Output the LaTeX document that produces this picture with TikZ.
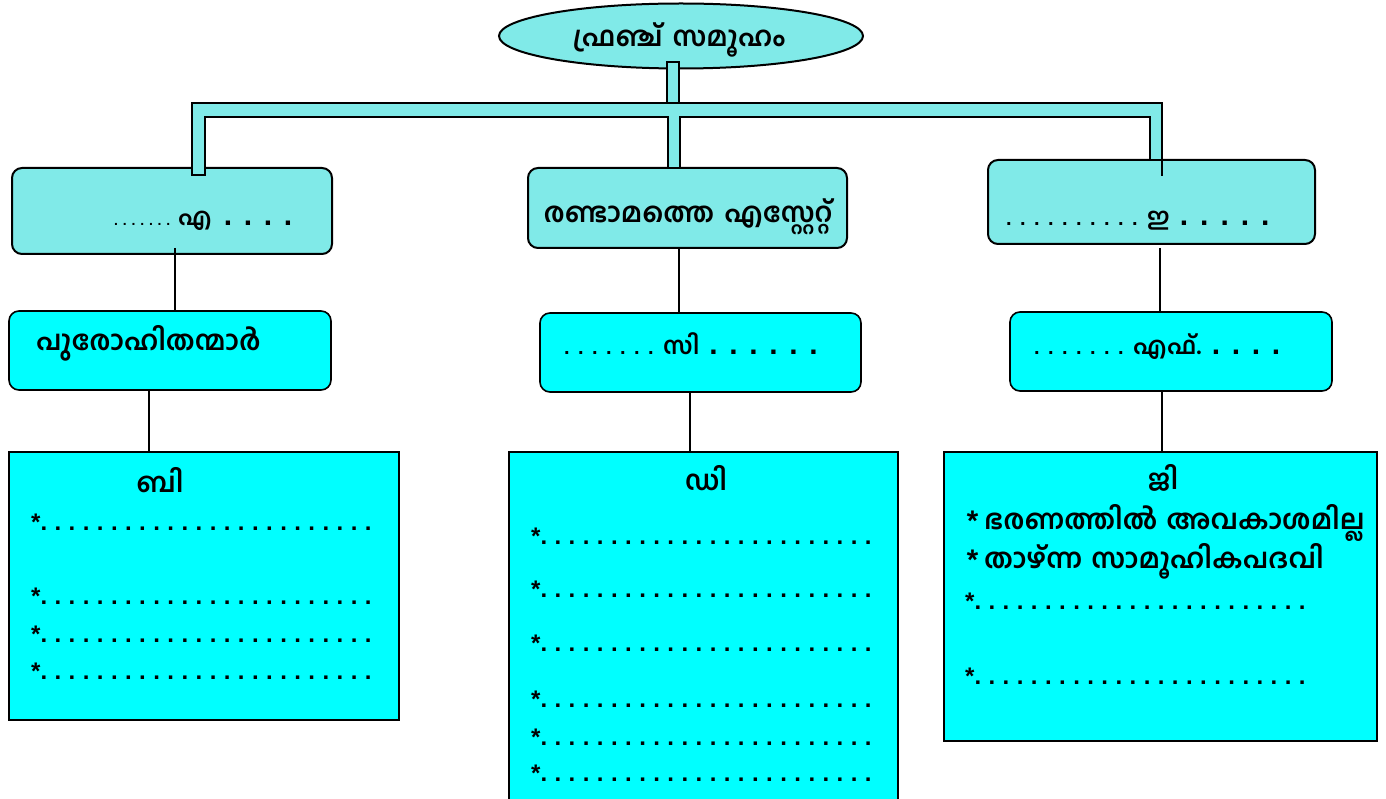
\documentclass[tikz,border=0pt]{standalone}
\usepackage{fontspec}
\setmainfont{Liberation Sans}
\newfontfamily\mal[Script=Malayalam]{Hind Kochi}
\usetikzlibrary{shapes.geometric}
\definecolor{turq}{RGB}{128,234,232}
\definecolor{cyanx}{RGB}{0,255,255}
\newcommand\dd[2]{\foreach \k in {1,...,#1}{\hbox to #2{.\hss}}}
\newcommand\bigdd[2]{{\fontsize{30}{30}\selectfont\dd{#1}{#2}}}
\tikzset{
  topbox/.style={draw=black, line width=2pt, fill=turq, rounded corners=10pt, inner sep=0pt},
  midbox/.style={draw=black, line width=1.6pt, fill=cyanx, rounded corners=10pt, inner sep=0pt},
  listbox/.style={draw=black, line width=1.5pt, fill=cyanx, inner sep=0pt},
  bar/.style={draw=black, line width=1.8pt, fill=turq},
  conn/.style={draw=black, line width=2.4pt},
  thin/.style={draw=black, line width=1.3pt},
  mtext/.style={font=\mal\bfseries\fontsize{27.5}{32}\selectfont, inner sep=0pt},
  ltext/.style={font=\bfseries\fontsize{24}{28}\selectfont, inner sep=0pt, anchor=base west},
  mline/.style={font=\mal\bfseries\fontsize{27.5}{32}\selectfont, inner sep=0pt, anchor=base west},
}
\begin{document}
\begin{tikzpicture}[x=1pt,y=-1pt]
\useasboundingbox (0,0) rectangle (1386,799);
% top ellipse
\node[ellipse, draw=black, line width=2pt, fill=turq, minimum width=364pt, minimum height=65pt, inner sep=0pt] (E) at (681,36) {};
\node[mtext] (tE) at (679,40) {ഫ്രഞ്ച്\hspace{10pt}സമൂഹം};
% first row
\node[topbox, minimum width=320pt, minimum height=86pt] (A) at (172,211) {};
\node[topbox, minimum width=319pt, minimum height=80pt] (M) at (687.5,208) {};
\node[topbox, minimum width=327pt, minimum height=84pt] (R) at (1151.5,202) {};
% second row
\node[midbox, minimum width=322pt, minimum height=79pt] (P) at (170,350.5) {};
\node[midbox, minimum width=321pt, minimum height=79pt] (C) at (700.5,352.5) {};
\node[midbox, minimum width=322pt, minimum height=79pt] (F) at (1171,351.5) {};
% third row
\node[listbox, minimum width=390pt, minimum height=268pt] (B) at (204,586) {};
\node[listbox, minimum width=389pt, minimum height=360pt] (D) at (703.5,632) {};
\node[listbox, minimum width=433pt, minimum height=289pt] (G) at (1160.5,596.5) {};
% bracket
\draw[bar] (667,62) rectangle (679,103);
\draw[bar] (192,175) -- (192,103) -- (1162,103) -- (1162,160) -- (1150,160) -- (1150,117)
  -- (680,117) -- (680,168) -- (668,168) -- (668,117) -- (205,117) -- (205,175) -- cycle;
\draw[line width=1.8pt] (1162,160) -- (1162,176);
% connectors
\coordinate (xa) at (175,0);
\coordinate (xm) at (679,0);
\coordinate (xr) at (1160,0);
\coordinate (xp) at (149,0);
\coordinate (xc) at (690,0);
\coordinate (xf) at (1162,0);
\draw[conn] ([yshift=7pt]A.south -| xa) -- (P.north -| xa);
\draw[conn] (M.south -| xm) -- (C.north -| xm);
\draw[conn] ([yshift=-3pt]R.south -| xr) -- (F.north -| xr);
\draw[thin] (P.south -| xp) -- (B.north -| xp);
\draw[thin] (C.south -| xc) -- (D.north -| xc);
\draw[thin] (F.south -| xf) -- (G.north -| xf);
% first-row texts
\node[ltext] (tA) at (114,226) {{\fontsize{14}{14}\selectfont\dd{7}{8.7pt}}\hspace{3pt}{\mal എ}\hspace{12pt}\bigdd{4}{20pt}};
\node[mtext] (tM) at (688,217) {രണ്ടാമത്തെ\hspace{10pt}എസ്റ്റേറ്റ്};
\node[ltext] (tR) at (1006,226) {{\fontsize{20}{20}\selectfont\dd{10}{14pt}}\hspace{1pt}{\mal ഇ}\hspace{10pt}\bigdd{5}{20.3pt}};
% second-row texts
\node[mline] (tP) at (36,350) {പുരോഹിതന്മാർ};
\node[ltext] (tC) at (564,354) {{\fontsize{20}{20}\selectfont\dd{7}{14pt}}\hspace{1pt}{\mal സി}\hspace{10pt}\bigdd{6}{20pt}};
\node[ltext] (tF) at (1034,354) {{\fontsize{20}{20}\selectfont\dd{7}{14pt}}\hspace{1pt}{\mal എഫ്.}\hspace{10pt}\bigdd{4}{20pt}};
% third-row headings
\node[mtext] (hB) at (160,480) {ബി};
\node[mtext] (hD) at (706,478) {ഡി};
\node[mtext] (hG) at (1163,478) {ജി};
% list B
\node[ltext] (b1) at (31,530) {*\dd{24}{14.1pt}};
\node[ltext] (b2) at (31,604) {*\dd{24}{14.1pt}};
\node[ltext] (b3) at (31,642) {*\dd{24}{14.1pt}};
\node[ltext] (b4) at (31,679) {*\dd{24}{14.1pt}};
% list D
\node[ltext] (d1) at (531,544) {*\dd{24}{14.1pt}};
\node[ltext] (d2) at (531,597) {*\dd{24}{14.1pt}};
\node[ltext] (d3) at (531,651) {*\dd{24}{14.1pt}};
\node[ltext] (d4) at (531,707) {*\dd{24}{14.1pt}};
\node[ltext] (d5) at (531,745) {*\dd{24}{14.1pt}};
\node[ltext] (d6) at (531,781) {*\dd{24}{14.1pt}};
% list G
\node[mline] (g1) at (966,529) {*\hspace{5pt}ഭരണത്തിൽ\hspace{9pt}അവകാശമില്ല};
\node[mline] (g2) at (966,568) {*\hspace{5pt}താഴ്ന്ന\hspace{9pt}സാമൂഹികപദവി};
\node[ltext] (g3) at (965,609) {*\dd{24}{14.1pt}};
\node[ltext] (g4) at (965,684) {*\dd{24}{14.1pt}};
\end{tikzpicture}
\end{document}
